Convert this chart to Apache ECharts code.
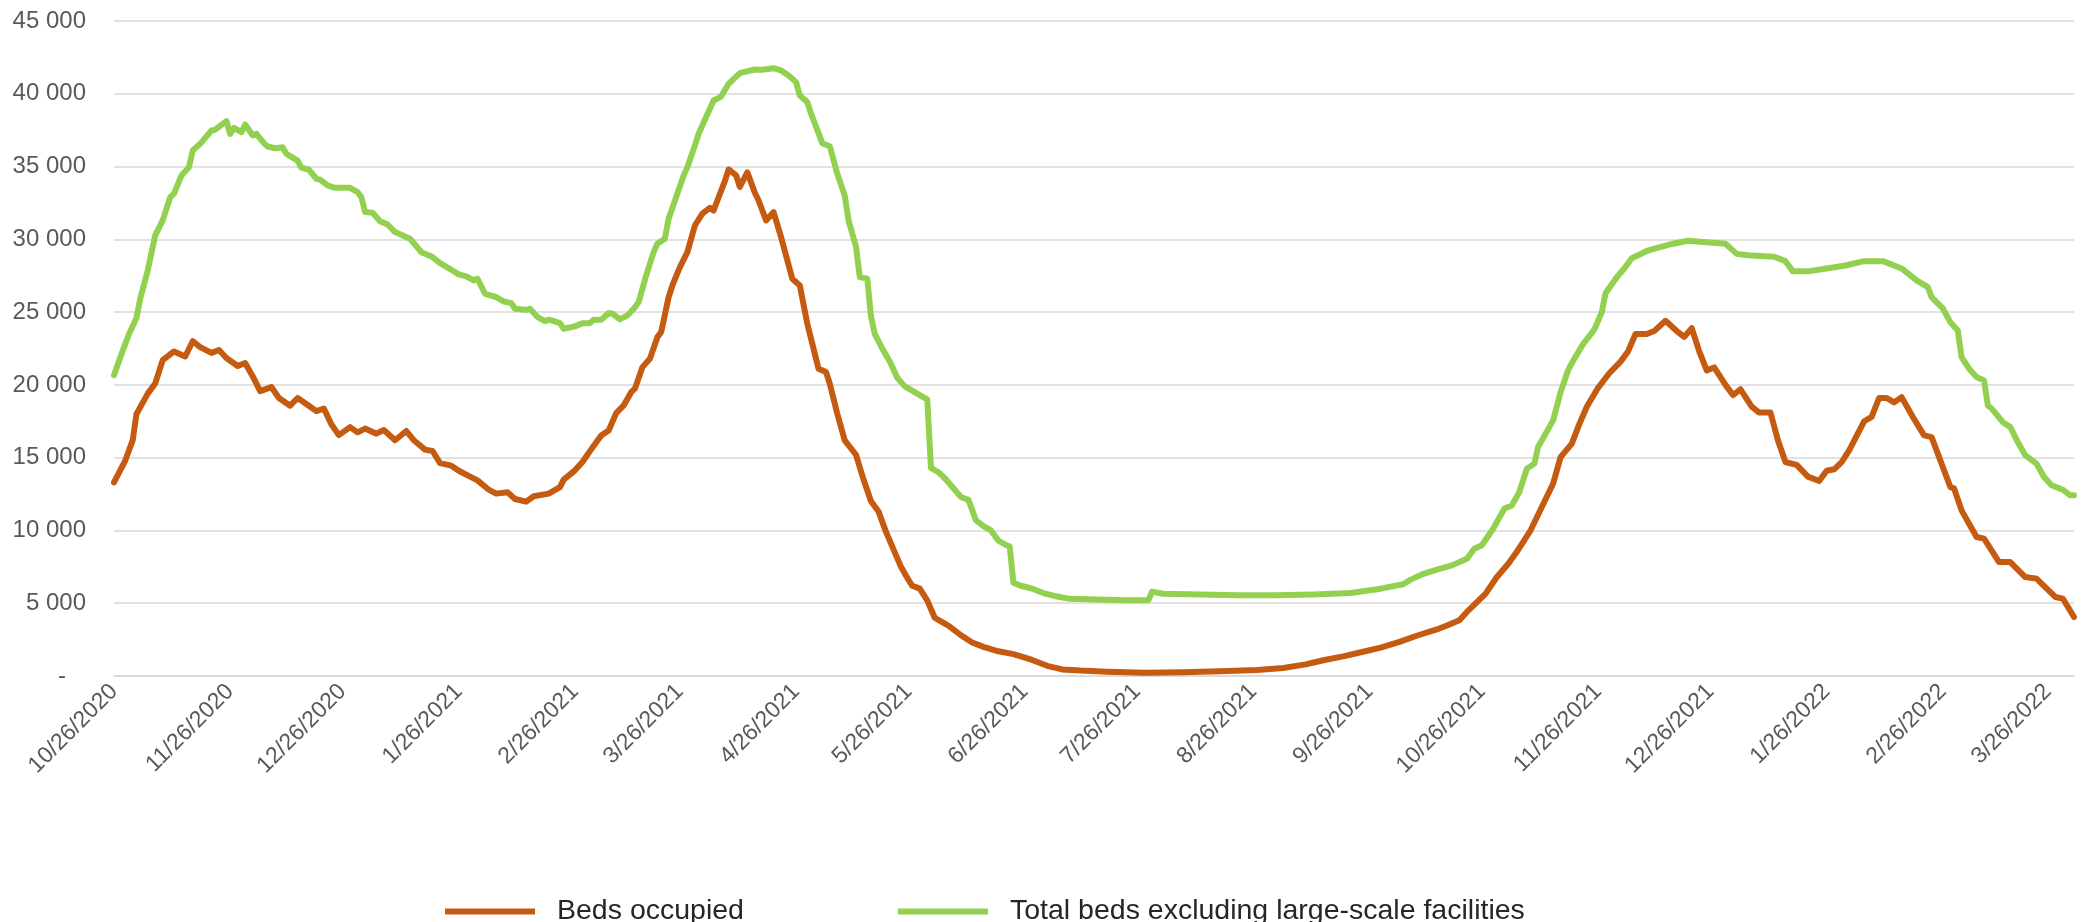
<!DOCTYPE html>
<html>
<head>
<meta charset="utf-8">
<script src="https://cdn.jsdelivr.net/npm/echarts@6/dist/echarts.min.js"></script>
<style>
html,body{margin:0;padding:0;background:#fff;}
#chart{width:2088px;height:922px;}
</style>
</head>
<body>
<div id="chart"></div>
<script>
// x values are day offsets counted from 10/26/2020
const startDateStr = '10/26/2020';
const lastDay = 523;
const tickLabels = ['10/26/2020','11/26/2020','12/26/2020','1/26/2021','2/26/2021','3/26/2021','4/26/2021','5/26/2021','6/26/2021','7/26/2021','8/26/2021','9/26/2021','10/26/2021','11/26/2021','12/26/2021','1/26/2022','2/26/2022','3/26/2022'];
const seriesNames = ['Beds occupied','Total beds excluding large-scale facilities'];

const occupiedDays = [
  0,3,5,6,9,11,13,16,19,21,
  23,26,28,30,33,35,37,39,42,44,
  47,49,52,54,56,58,60,63,65,67,
  70,72,75,78,80,83,85,87,90,92,
  95,97,100,102,105,107,110,112,116,119,
  120,123,125,127,130,132,134,136,138,139,
  141,143,145,146,148,149,151,153,155,157,
  159,160,161,163,164,166,167,169,171,172,
  174,176,178,181,183,185,188,190,191,193,
  195,196,198,200,202,204,206,208,210,212,
  213,215,217,219,221,223,226,229,232,236,
  240,245,249,253,258,265,275,285,295,305,
  312,318,323,328,333,338,343,348,353,356,
  359,361,363,366,369,372,374,376,378,381,
  384,386,389,391,393,396,399,402,404,406,
  409,411,414,417,419,421,423,425,427,430,
  432,434,437,439,442,444,446,449,452,455,
  457,459,461,463,465,467,469,471,473,475,
  477,480,483,485,490,491,493,497,499,503,
  506,510,513,518,520,523];
const occupiedValues = [
  13300,14800,16200,18000,19400,20100,21700,22300,21950,23000,
  22600,22200,22400,21850,21300,21500,20600,19570,19850,19100,
  18570,19100,18570,18200,18380,17290,16550,17100,16740,17000,
  16650,16900,16200,16830,16200,15550,15460,14630,14450,14100,
  13700,13440,12800,12530,12620,12160,11980,12350,12530,12980,
  13490,14130,14700,15450,16530,16870,18060,18590,19500,19740,
  21220,21800,23280,23630,26030,26830,28090,29120,30950,31760,
  32170,31980,32670,34000,34800,34400,33600,34600,33200,32670,
  31300,31870,30150,27290,26830,24200,21110,20880,20080,18020,
  16190,15850,15200,13500,12000,11300,9900,8700,7500,6600,
  6200,6000,5200,4000,3700,3400,2800,2300,2000,1700,
  1500,1100,700,450,370,300,220,250,330,420,
  550,800,1100,1350,1650,1950,2350,2800,3200,3500,
  3830,4400,4900,5660,6800,7700,8410,9200,10010,11610,
  13210,15040,15960,17300,18500,19800,20800,21600,22300,23500,
  23500,23700,24400,23700,23300,23900,22300,21000,21200,20000,
  19300,19700,18500,18100,18100,16200,14700,14500,13700,13400,
  14100,14200,14700,15500,16500,17500,17800,19100,19100,18800,
  19160,17790,16530,16410,12980,12890,11380,9550,9440,7830,
  7830,6800,6690,5430,5320,4050];

const totalDays = [
  0,2,4,6,7,9,11,13,15,16,
  18,20,21,23,26,27,30,31,32,34,
  35,37,38,40,41,43,45,46,49,50,
  52,54,55,57,59,63,65,66,67,69,
  71,73,75,79,82,83,85,87,90,92,
  94,96,97,99,102,104,106,107,110,111,
  113,115,116,119,120,123,125,127,128,130,
  132,133,135,137,139,140,142,144,145,147,
  148,150,152,153,155,156,158,160,162,164,
  167,168,171,173,176,178,180,182,183,185,
  186,188,189,191,193,195,196,198,199,201,
  202,203,205,207,209,211,213,215,217,218,
  220,222,224,226,228,230,232,234,236,238,
  239,240,242,245,248,251,255,262,270,276,
  277,280,290,300,310,320,330,338,344,346,
  349,353,357,361,363,365,368,371,373,375,
  377,379,380,383,384,386,388,389,392,395,
  397,398,401,403,405,409,413,416,420,425,
  430,433,436,443,446,448,452,457,462,467,
  472,475,477,481,484,485,488,490,492,493,
  495,497,499,500,501,504,506,508,510,513,
  515,517,520,522,523];
const totalValues = [
  20670,22130,23500,24600,25920,27860,30270,31300,32900,33130,
  34390,34960,36100,36560,37480,37530,38120,37250,37660,37360,
  37890,37140,37250,36610,36380,36260,36330,35870,35410,34920,
  34780,34160,34100,33700,33540,33540,33240,32900,31870,31830,
  31250,31020,30500,30040,29120,29010,28780,28370,27910,27590,
  27450,27180,27290,26260,26030,25730,25620,25230,25160,25230,
  24660,24380,24480,24240,23860,24020,24240,24240,24480,24480,
  24930,24890,24500,24770,25340,25690,27520,29120,29700,30040,
  31420,32900,34390,34960,36440,37250,38400,39540,39810,40690,
  41420,41490,41670,41650,41760,41600,41260,40800,39880,39430,
  38630,37300,36600,36400,34500,33000,31300,29500,27400,27300,
  24700,23500,22500,21600,20500,19900,19600,19300,19000,14300,
  14000,13500,12900,12300,12100,10700,10300,10000,9300,9000,
  8900,6400,6200,6000,5700,5500,5300,5250,5200,5200,
  5800,5650,5600,5550,5550,5600,5700,6000,6300,6620,
  6980,7310,7600,8060,8750,8980,10120,11500,11720,12640,
  14240,14590,15730,17100,17560,19500,21000,21500,22800,23800,
  25000,26300,27400,28000,28700,29200,29500,29700,29900,29800,
  29700,29000,28900,28800,28500,27800,27800,28000,28200,28500,
  28500,28200,28000,27180,26720,26030,25250,24310,23740,21910,
  21110,20540,20310,18590,18380,17440,17100,16070,15160,14590,
  13670,13100,12800,12410,12410];

function parseMDY(s){const p=s.split('/').map(Number);return Date.UTC(p[2],p[0]-1,p[1]);}
const start = parseMDY(startDateStr);
const tickDays = tickLabels.map(s => Math.round((parseMDY(s)-start)/86400000));
function dayLabel(d){const dt=new Date(start+d*86400000);return (dt.getUTCMonth()+1)+'/'+dt.getUTCDate()+'/'+dt.getUTCFullYear();}
function pairs(ds,vs){const n=Math.min(ds.length,vs.length);const out=[];for(let i=0;i<n;i++)out.push([ds[i],vs[i]]);return out;}

const chart = echarts.init(document.getElementById('chart'), null, {renderer:'canvas'});
const font = '"Liberation Sans", Arial, sans-serif';
chart.setOption({
  animation:false,
  backgroundColor:'#ffffff',
  grid:{left:114,right:14,top:21,bottom:246,containLabel:false},
  xAxis:{
    type:'value',min:0,max:lastDay,
    splitLine:{show:false},
    axisLine:{show:true,lineStyle:{color:'#d9d9d9',width:1.5}},
    axisTick:{show:false},
    axisLabel:{
      customValues:tickDays,
      rotate:45,margin:12,fontSize:23,color:'#595959',fontFamily:font,
      formatter:v=>dayLabel(Math.round(v))
    }
  },
  yAxis:{
    type:'value',min:0,max:45000,interval:5000,
    axisLine:{show:false},axisTick:{show:false},
    splitLine:{lineStyle:{color:'#d9d9d9',width:1.5}},
    axisLabel:{margin:28,fontSize:24,color:'#595959',fontFamily:font,
      formatter:v=>v===0?'-   ':String(v).replace(/\B(?=(\d{3})+(?!\d))/g,' ')}
  },
  legend:{
    left:440,top:892,itemWidth:90,itemHeight:6,itemGap:154,
    textStyle:{fontSize:28.5,color:'#262626',fontFamily:font,padding:[0,0,0,17]},
    data:[{name:seriesNames[0],icon:'rect'},{name:seriesNames[1],icon:'rect'}]
  },
  series:[
    {name:seriesNames[0],type:'line',data:pairs(occupiedDays,occupiedValues),showSymbol:false,symbol:'none',
     lineStyle:{color:'#C55A11',width:6,join:'round',cap:'round'},itemStyle:{color:'#C55A11'},z:3},
    {name:seriesNames[1],type:'line',data:pairs(totalDays,totalValues),showSymbol:false,symbol:'none',
     lineStyle:{color:'#92D050',width:6,join:'round',cap:'round'},itemStyle:{color:'#92D050'},z:2}
  ]
});
</script>
</body>
</html>
